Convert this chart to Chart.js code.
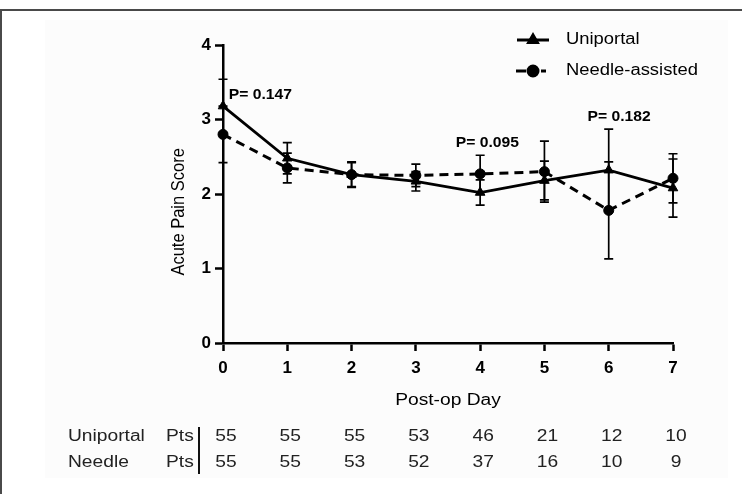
<!DOCTYPE html>
<html>
<head>
<meta charset="utf-8">
<script src="https://cdn.jsdelivr.net/npm/chart.js@4/dist/chart.umd.min.js"></script>
<style>
html,body{margin:0;padding:0;background:#fff;}
#wrap{position:relative;width:742px;height:494px;}
</style>
</head>
<body>
<div id="wrap"><canvas id="c" width="742" height="494"></canvas></div>
<script>
// ---- data ----
const days = [0, 1, 2, 3, 4, 5, 6, 7];
const uniportalMean = [3.18, 2.48, 2.26, 2.17, 2.02, 2.18, 2.32, 2.08];
const uniportalErr  = [0.36, 0.21, 0.17, 0.13, 0.17, 0.26, 0.55, 0.39];
const needleMean    = [2.80, 2.35, 2.26, 2.25, 2.27, 2.30, 1.78, 2.21];
const needleErr     = [0.38, 0.20, 0.16, 0.15, 0.25, 0.41, 0.65, 0.33];
const uniportalPts  = [55, 55, 55, 53, 46, 21, 12, 10];
const needlePts     = [55, 55, 53, 52, 37, 16, 10, 9];
const pLabels       = ['P= 0.147', 'P= 0.095', 'P= 0.182'];
const seriesNames   = ['Uniportal', 'Needle-assisted'];
const rowNames      = ['Uniportal', 'Needle'];
const yTicks        = [0, 1, 2, 3, 4];

const FONT = '"Liberation Sans", Arial, sans-serif';

function stretchText(ctx, s, x, y, font, align, color, sx) {
  ctx.save();
  ctx.font = font;
  ctx.fillStyle = color;
  ctx.textAlign = align;
  ctx.textBaseline = 'middle';
  ctx.translate(x, y);
  ctx.scale(sx, 1);
  ctx.fillText(s, 0, 0);
  ctx.restore();
}

const decor = {
  id: 'decor',
  beforeDraw(chart) {
    const ctx = chart.ctx;
    ctx.save();
    ctx.fillStyle = '#fcfcfc';
    ctx.fillRect(45, 20, 683, 458);
    ctx.fillStyle = '#4a4a4a';
    ctx.fillRect(0, 9, 742, 2);
    ctx.fillRect(0, 9, 2, 485);
    ctx.restore();
  },
  beforeDatasetsDraw(chart) {
    const ctx = chart.ctx;
    const xs = chart.scales.x, ys = chart.scales.y;
    const sets = [[uniportalMean, uniportalErr], [needleMean, needleErr]];
    ctx.save();
    ctx.strokeStyle = '#000';
    ctx.lineWidth = 1.7;
    sets.forEach(([m, e]) => {
      days.forEach((d, i) => {
        const x = xs.getPixelForValue(d);
        const yt = ys.getPixelForValue(m[i] + e[i]);
        const yb = ys.getPixelForValue(m[i] - e[i]);
        ctx.beginPath();
        ctx.moveTo(x, yt); ctx.lineTo(x, yb);
        ctx.moveTo(x - 4.5, yt); ctx.lineTo(x + 4.5, yt);
        ctx.moveTo(x - 4.5, yb); ctx.lineTo(x + 4.5, yb);
        ctx.stroke();
      });
    });
    ctx.restore();
  },
  afterDraw(chart) {
    const ctx = chart.ctx;
    const xs = chart.scales.x, ys = chart.scales.y;
    const area = chart.chartArea;

    // y axis title
    ctx.save();
    ctx.translate(179, ys.getPixelForValue(1.76));
    ctx.rotate(-Math.PI / 2);
    ctx.scale(1, 1.15);
    ctx.font = '16.5px ' + FONT;
    ctx.fillStyle = '#000';
    ctx.textAlign = 'center';
    ctx.textBaseline = 'middle';
    ctx.fillText('Acute Pain Score', 0, 0);
    ctx.restore();

    // x axis title
    stretchText(ctx, 'Post-op Day', (area.left + area.right) / 2, 401, '16px ' + FONT, 'center', '#000', 1.2);

    // p-values
    const pPos = [[0.09, 3.33], [3.62, 2.68], [5.67, 3.03]];
    pLabels.forEach((s, i) => {
      stretchText(ctx, s, xs.getPixelForValue(pPos[i][0]), ys.getPixelForValue(pPos[i][1]),
        'bold 14px ' + FONT, 'left', '#000', 1.12);
    });

    // legend
    const lg = [[40, 'triangle', []], [71, 'circle', []]];
    lg.forEach(([y, style], i) => {
      ctx.save();
      ctx.strokeStyle = '#000';
      ctx.lineWidth = 3;
      ctx.beginPath();
      if (i === 0) { ctx.moveTo(517, y); ctx.lineTo(549, y); }
      else { ctx.moveTo(516, y); ctx.lineTo(526, y); ctx.moveTo(541, y); ctx.lineTo(546, y); }
      ctx.stroke();
      ctx.fillStyle = '#000';
      Chart.helpers.drawPoint(ctx, {pointStyle: style, radius: 5, rotation: 0, borderWidth: 1}, 533, y);
      ctx.fill();
      ctx.restore();
      stretchText(ctx, seriesNames[i], 566, y, '16px ' + FONT, 'left', '#000', 1.15);
    });

    // patients table
    const rows = [[437, uniportalPts], [463, needlePts]];
    rows.forEach(([y, vals], r) => {
      stretchText(ctx, rowNames[r], 68, y, '16px ' + FONT, 'left', '#222', 1.2);
      stretchText(ctx, 'Pts', 166, y, '16px ' + FONT, 'left', '#222', 1.2);
      vals.forEach((v, i) => {
        stretchText(ctx, String(v), xs.getPixelForValue(days[i]) + 3, y, '16px ' + FONT, 'center', '#222', 1.2);
      });
    });
    ctx.save();
    ctx.fillStyle = '#111';
    ctx.fillRect(198, 427, 2, 47);
    ctx.restore();
  }
};

new Chart(document.getElementById('c'), {
  type: 'line',
  data: {
    labels: days,
    datasets: [
      {
        label: seriesNames[0],
        data: days.map((d, i) => ({x: d, y: uniportalMean[i]})),
        borderColor: '#000',
        backgroundColor: '#000',
        borderWidth: 2.8,
        pointStyle: 'triangle',
        pointRadius: 5.5,
        pointBorderWidth: 1,
        tension: 0,
        clip: false
      },
      {
        label: seriesNames[1],
        data: days.map((d, i) => ({x: d, y: needleMean[i]})),
        borderColor: '#000',
        backgroundColor: '#000',
        borderWidth: 3,
        borderDash: [9, 6],
        pointStyle: 'circle',
        pointRadius: 5,
        pointBorderWidth: 1,
        tension: 0,
        clip: false
      }
    ]
  },
  options: {
    responsive: false,
    animation: false,
    layout: {padding: {left: 0, right: 69, top: 45, bottom: 0}},
    plugins: {legend: {display: false}, tooltip: {enabled: false}},
    scales: {
      x: {
        type: 'linear',
        min: 0, max: 7,
        afterFit(s) { s.height = 151; },
        ticks: {stepSize: 1, color: '#000', padding: 7, font: {family: FONT, size: 17, weight: 'bold'}},
        grid: {drawOnChartArea: false, drawTicks: true, tickLength: 8, tickWidth: 2.5, tickColor: '#000', color: '#000'},
        border: {display: true, color: '#000', width: 2.5}
      },
      y: {
        min: 0, max: 4,
        afterFit(s) { s.width = 223; },
        afterBuildTicks(s) { s.ticks = yTicks.map(v => ({value: v})); },
        ticks: {color: '#000', padding: 4, font: {family: FONT, size: 17, weight: 'bold'}},
        grid: {drawOnChartArea: false, drawTicks: true, tickLength: 8, tickWidth: 2.5, tickColor: '#000', color: '#000'},
        border: {display: true, color: '#000', width: 2.5}
      }
    }
  },
  plugins: [decor]
});
</script>
</body>
</html>
